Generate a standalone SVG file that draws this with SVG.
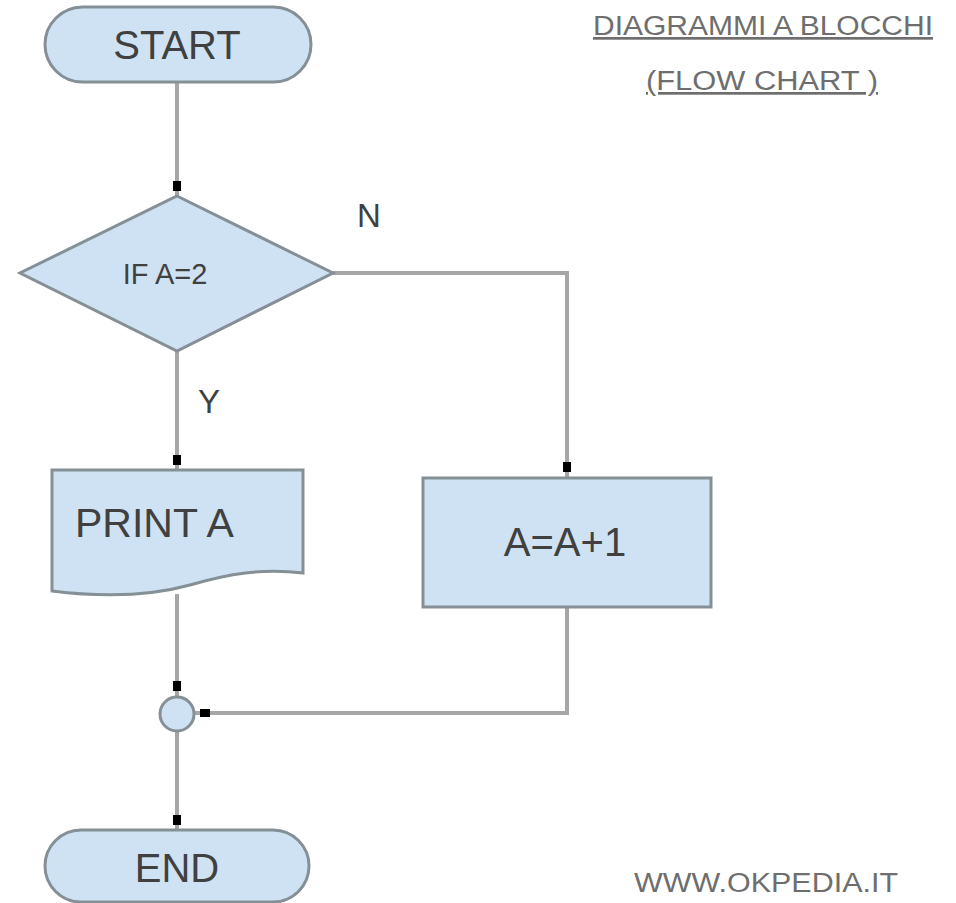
<svg xmlns="http://www.w3.org/2000/svg" width="956" height="903" viewBox="0 0 956 903">
  <style>
    .node { fill: #cfe2f3; stroke: #858f96; stroke-width: 3; }
    .edge { fill: none; stroke: #a6a6a6; stroke-width: 4; marker-end: url(#arr); }
    .lbl { font-family: "Liberation Sans", Arial, sans-serif; fill: #404040; }
    .big { font-size: 40px; }
    .note { font-family: "Liberation Sans", Arial, sans-serif; fill: #6e6e6e; font-size: 27px; }
  </style>
  <defs>
    <marker id="arr" markerUnits="userSpaceOnUse" viewBox="0 0 20 10" markerWidth="20" markerHeight="10" refX="20" refY="5" orient="auto">
      <rect x="5" y="1" width="10" height="8" fill="#000"/>
    </marker>
  </defs>
  <rect width="956" height="903" fill="#ffffff"/>

  <g id="connectors">
    <path class="edge" d="M177,82 V196"/>
    <path class="edge" d="M177,351 V470"/>
    <path class="edge" d="M333,273 H567 V477"/>
    <path class="edge" d="M177,594 V696"/>
    <path class="edge" d="M567,607 V713 H195"/>
    <path class="edge" d="M177,732 V830"/>
  </g>

  <g id="start">
    <rect class="node" x="45" y="7" width="266" height="75" rx="37.5"/>
    <text class="lbl big" x="177" y="59" text-anchor="middle">START</text>
  </g>

  <g id="decision">
    <polygon class="node" points="177,196 333,273 177,351 20,273"/>
    <text class="lbl" x="165" y="284" text-anchor="middle" font-size="29">IF A=2</text>
  </g>

  <g id="label-n">
    <text class="lbl" x="357" y="227" font-size="33">N</text>
  </g>
  <g id="label-y">
    <text class="lbl" x="198" y="413" font-size="33">Y</text>
  </g>

  <g id="print">
    <path class="node" d="M52,470 H303 V573 C262,568 228,574 190,585 C150,596 100,597 52,591 Z"/>
    <text class="lbl" x="75" y="537" font-size="41">PRINT A</text>
  </g>

  <g id="increment">
    <rect class="node" x="423" y="478" width="288" height="129"/>
    <text class="lbl big" x="565" y="556" text-anchor="middle">A=A+1</text>
  </g>

  <g id="join">
    <circle class="node" cx="177" cy="714" r="17"/>
  </g>

  <g id="end">
    <rect class="node" x="45" y="830" width="264" height="72" rx="36"/>
    <text class="lbl big" x="177" y="882" text-anchor="middle">END</text>
  </g>

  <g id="title">
    <text class="note" x="593" y="35" textLength="340" lengthAdjust="spacingAndGlyphs" text-decoration="underline">DIAGRAMMI A BLOCCHI</text>
    <text class="note" x="646" y="90" textLength="232" lengthAdjust="spacingAndGlyphs" text-decoration="underline">(FLOW CHART )</text>
  </g>

  <g id="credit">
    <text class="note" x="634" y="892" textLength="264" lengthAdjust="spacingAndGlyphs">WWW.OKPEDIA.IT</text>
  </g>
</svg>
